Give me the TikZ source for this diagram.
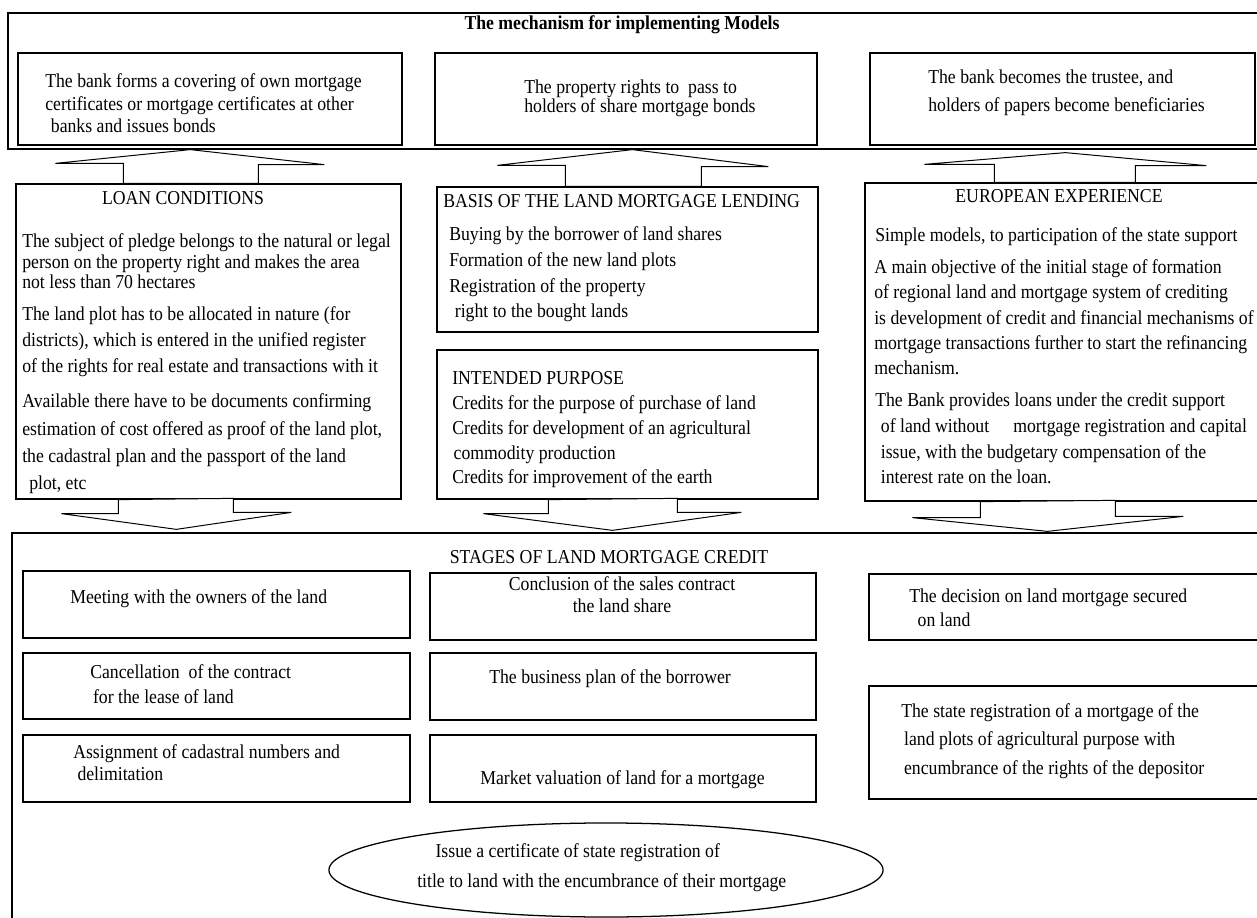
\documentclass[tikz,border=0pt]{standalone}
\usepackage{fontspec}
\setmainfont{Liberation Serif}[FakeStretch=0.9]
\usetikzlibrary{fit,calc,shapes.geometric}

\tikzset{
  box/.style={draw, line width=0.9pt, inner sep=0pt},
  blk/.style={draw, fill=white, line width=0.7pt},
  % multi-line texts sit on the baseline of their last line
  txt/.style={anchor=base west, inner sep=0pt, align=left, font=\fontsize{14}{#1}\selectfont},
  txt/.default=17,
  head/.style={anchor=base, inner sep=0pt, font=\fontsize{14}{17}\selectfont},
}

\begin{document}
\begin{tikzpicture}[x=0.025cm, y=-0.025cm]  % one unit = one pixel of the layout
    \useasboundingbox (0,0) rectangle (1257,918);
    \clip (0,0) rectangle (1257,918);

    % outer frames
    \node[box, fit={(8,13) (1270,149)}] (top) {};
    \node[box, fit={(12,533) (1270,930)}] (stages) {};
    \node[head, font=\fontsize{14}{17}\selectfont\bfseries] (title) at (622,30) {The mechanism for implementing Models};

    % models
    \node[box, fit={(18,53) (402,145)}] (cover) {};
    \node[box, fit={(435,53) (817,145)}] (rights) {};
    \node[box, fit={(870,53) (1255,145)}] (trustee) {};
    \node[txt=16.3] (cover-t) at (45,133) {The bank forms a covering of own mortgage\\certificates or mortgage certificates at other\\\hspace{4pt}banks and issues bonds};
    \node[txt=14.2] (rights-t) at (524,113) {The property rights to\ \ pass to\\holders of share mortgage bonds};
    \node[txt=20.5] (trustee-t) at (928,112) {The bank becomes the trustee, and\\holders of papers become beneficiaries};

    % conditions, basis, purpose, experience
    \node[box, fit={(16,184) (401,499)}] (loan) {};
    \node[box, fit={(437,187) (818,332)}] (basis) {};
    \node[box, fit={(437,350) (818,499)}] (purpose) {};
    \node[box, fit={(865,183) (1270,501)}] (europe) {};

    \node[head] (loan-h) at (183,205) {LOAN CONDITIONS};
    \node[txt=14.9] (loan-a) at (22,289) {The subject of pledge belongs to the natural or legal\\person on the property right and makes the area\\not less than 70 hectares};
    \node[txt=18.8] (loan-b) at (22,373) {The land plot has to be allocated in nature (for\\districts), which is entered in the unified register\\of the rights for real estate and transactions with it};
    \node[txt=19.5] (loan-c) at (22,490) {Available there have to be documents confirming\\estimation of cost offered as proof of the land plot,\\the cadastral plan and the passport of the land\\\hspace{5pt}plot, etc};

    \node[txt] (basis-h) at (443,208) {BASIS OF THE LAND MORTGAGE LENDING};
    \node[txt=18.4] (basis-t) at (449,318) {Buying by the borrower of land shares\\Formation of the new land plots\\Registration of the property\\\hspace{4pt}right to the bought lands};

    \node[txt=17.7] (purpose-t) at (452,484) {INTENDED PURPOSE\\Credits for the purpose of purchase of land\\Credits for development of an agricultural\\\hspace{1pt}commodity production\\Credits for improvement of the earth};

    \node[head] (europe-h) at (1059,203) {EUROPEAN EXPERIENCE};
    \node[txt] (europe-a) at (875,242) {Simple models, to participation of the state support};
    \node[txt=18.1] (europe-b) at (874,375) {A main objective of the initial stage of formation\\of regional land and mortgage system of crediting\\is development of credit and financial mechanisms of\\mortgage transactions further to start the refinancing\\mechanism.};
    \node[txt=18.4] (europe-c) at (875,484) {The Bank provides loans under the credit support\\\hspace{4pt}of land without \hspace{14pt}mortgage registration and capital\\\hspace{4pt}issue, with the budgetary compensation of the\\\hspace{4pt}interest rate on the loan.};

    % arrows up to the models
    \draw[blk] ($(top.south west)+(183,0)$) -- ++(134,15) -- ++(-66,0) |- ($(loan.north west)+(108,0)$) -- ++(0,-20) -- ++(-68,0) -- cycle;
    \draw[blk] ($(top.south west)+(625,0)$) -- ++(136,17) -- ++(-67,0) |- ($(basis.north west)+(129,0)$) -- ++(0,-21) -- ++(-68,0) -- cycle;
    \draw[blk] ($(top.south west)+(1058,3)$) -- ++(141,13) -- ++(-71,0) |- ($(europe.north west)+(130,0)$) -- ++(0,-18) -- ++(-70,0) -- cycle;

    % arrows down to the stages
    \draw[blk] ($(loan.south west)+(103,0)$) -- ++(0,14) -- ++(-57,0) -- ($(stages.north west)+(165,-3)$) -- ++(115,-17) -- ++(-58,0) -- ++(0,-14) -- cycle;
    \draw[blk] ($(purpose.south west)+(112,0)$) -- ++(0,14) -- ++(-65,0) -- ($(stages.north west)+(601,-2)$) -- ++(129,-18) -- ++(-64,0) -- ++(0,-14) -- cycle;
    \draw[blk] ($(europe.south west)+(116,0)$) -- ++(0,16) -- ++(-68,0) -- ($(stages.north west)+(1036,-1)$) -- ++(136,-15) -- ++(-68,0) -- ++(0,-16) -- cycle;

    % stages of land mortgage credit
    \node[head] (stages-h) at (609,563) {STAGES OF LAND MORTGAGE CREDIT};
    \node[box, fit={(23,571) (410,638)}] (meet) {};
    \node[box, fit={(23,653) (410,719)}] (cancel) {};
    \node[box, fit={(23,735) (410,802)}] (assign) {};
    \node[box, fit={(430,573) (816,640)}] (concl) {};
    \node[box, fit={(430,653) (816,720)}] (bplan) {};
    \node[box, fit={(430,735) (816,802)}] (market) {};
    \node[box, fit={(869,574) (1270,640)}] (decision) {};
    \node[box, fit={(869,686) (1270,799)}] (statereg) {};
    \node[draw, ellipse, line width=0.9pt, minimum width=13.85cm, minimum height=2.35cm, inner sep=0pt] (cert) at (606,870) {};

    \node[txt] (meet-t) at (70,603) {Meeting with the owners of the land};
    \node[txt=17.7] (cancel-t) at (90,703) {Cancellation\ \ of the contract\\\hspace{2pt}for the lease of land};
    \node[txt=15.6] (assign-t) at (73,780) {Assignment of cadastral numbers and\\\hspace{3pt}delimitation};
    \node[head, align=center, font=\fontsize{14}{15.6}\selectfont] (concl-t) at (622,612) {Conclusion of the sales contract\\the land share};
    \node[txt] (bplan-t) at (489,683) {The business plan of the borrower};
    \node[txt] (market-t) at (480,784) {Market valuation of land for a mortgage};
    \node[txt=17] (decision-t) at (909,626) {The decision on land mortgage secured\\\hspace{6pt}on land};
    \node[txt=20.2] (statereg-t) at (901,774) {The state registration of a mortgage of the\\\hspace{2pt}land plots of agricultural purpose with\\\hspace{2pt}encumbrance of the rights of the depositor};
    \node[txt=21.3] (cert-t) at (417,887) {\hspace{13pt}Issue a certificate of state registration of\\title to land with the encumbrance of their mortgage};
\end{tikzpicture}
\end{document}
